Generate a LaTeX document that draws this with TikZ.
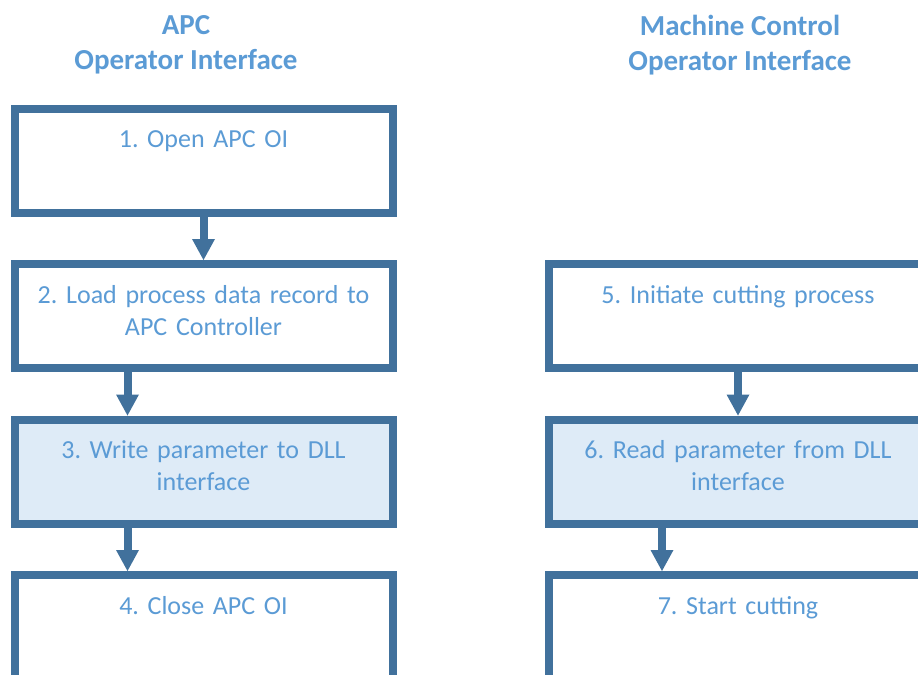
\documentclass[tikz,border=0pt]{standalone}
\usepackage{fontspec}
\setmainfont{Carlito}
\usetikzlibrary{positioning, arrows.meta}

\definecolor{apcline}{HTML}{41719C}
\definecolor{apctext}{HTML}{5B9BD5}
\definecolor{apcfill}{HTML}{DEEBF7}

\begin{document}
\frenchspacing
\begin{tikzpicture}[node distance=77.75pt, on grid,
    stepbox/.style={draw=apcline, line width=4pt, fill=white, text=apctext,
      inner sep=0pt, text width=189pt, align=center,
      text height=19.5pt, text depth=32.5pt,
      font=\fontsize{13pt}{16pt}\selectfont},
    dllbox/.style={stepbox, fill=apcfill},
    heading/.style={text=apctext, align=center, inner sep=0pt, anchor=north,
      font=\fontsize{14.5pt}{17.5pt}\selectfont\bfseries},
    flow/.style={-{Triangle[width=11.5pt, length=10.5pt, line width=0pt]},
      color=apcline, line width=4pt}]
		\useasboundingbox (0,0) rectangle (459pt,-337.5pt);
		\clip (0,0) rectangle (459pt,-337.5pt);
		
		\node[heading] (apc) at (93pt,-7.5pt) {APC\\Operator Interface};
		\node[heading] (mc) at (370pt,-7.5pt) {Machine Control\\Operator Interface};
		
		\node[stepbox] (b1) at (101.75pt,-80.25pt) {1. Open APC OI};
		\node[stepbox] (b2) [below=of b1] {2. Load process data record to\\APC Controller};
		\node[dllbox] (b3) [below=of b2] {3. Write parameter to DLL\\interface};
		\node[stepbox] (b4) [below=of b3] {4. Close APC OI};
		\node[stepbox] (b5) [right=267.25pt of b2] {5. Initiate cutting process};
		\node[dllbox] (b6) [below=of b5] {6. Read parameter from DLL\\interface};
		\node[stepbox] (b7) [below=of b6] {7. Start cutting};
		
		\path[flow]
		(b1) edge (b2)
		([xshift=-38pt]b2.south) edge ([xshift=-38pt]b3.north)
		([xshift=-38pt]b3.south) edge ([xshift=-38pt]b4.north)
		(b5) edge (b6)
		([xshift=-38pt]b6.south) edge ([xshift=-38pt]b7.north);
	\end{tikzpicture}
\end{document}
